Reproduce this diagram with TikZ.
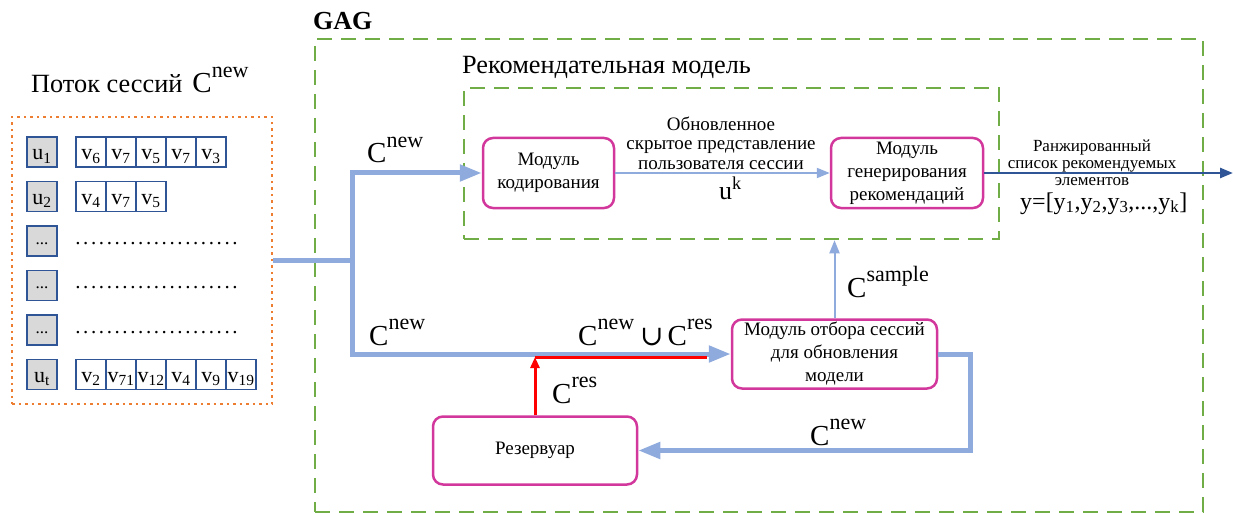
\documentclass[tikz,border=0pt]{standalone}
\usepackage{fontspec}
\setmainfont{Liberation Serif}
\newfontfamily\symserif{DejaVu Serif}
\usetikzlibrary{arrows.meta}

\definecolor{flow}{RGB}{143,170,220}
\definecolor{outblue}{RGB}{47,85,151}
\definecolor{modpink}{RGB}{210,55,155}
\definecolor{gaggreen}{RGB}{112,173,71}
\definecolor{streamorange}{RGB}{237,125,49}
\definecolor{cellgray}{RGB}{217,217,217}

\newcommand\fsz[2]{\fontsize{#1}{#2}\selectfont}
% set symbol C with a raised index
\newcommand\Cidx[1]{C\raisebox{0.52em}{\fsz{22}{22}#1}}

\tikzset{
  streambox/.style={draw=streamorange, line width=2pt, dash pattern=on 2.5pt off 4pt,
    minimum width=260pt, minimum height=287pt, inner sep=0pt},
  ucell/.style={draw=outblue, fill=cellgray, line width=1.2pt, minimum width=30pt,
    minimum height=30pt, inner sep=0pt, font=\fsz{22}{22}, text height=16pt, text depth=0pt},
  dcell/.style={ucell, font=\fsz{17}{17}, text height=6pt},
  vcell/.style={draw=outblue, fill=white, line width=1.2pt, minimum width=30pt,
    minimum height=30pt, inner sep=0pt, font=\fsz{22}{22}, text height=16pt, text depth=0pt},
  dotrow/.style={inner sep=0pt, font=\fsz{21}{21}, text height=6pt, text depth=0pt},
  dashbox/.style={draw=gaggreen, line width=2.5pt, dash pattern=on 15pt off 9pt, inner sep=0pt},
  module/.style={draw=modpink, line width=2.5pt, rounded corners=10pt, align=center,
    inner sep=0pt, font=\fsz{19}{23}},
  title/.style={inner sep=0pt, anchor=base west, font=\fsz{26.3}{26.3}},
  clabel/.style={inner sep=0pt, anchor=base west, font=\fsz{29}{29}},
  note/.style={inner sep=0pt, align=center},
  flowthick/.style={draw=flow, line width=5pt},
  bigtip/.style={-{Triangle[length=22pt,width=16pt]}},
  flowthin/.style={draw=flow, line width=2pt, -{Triangle[length=13pt,width=10pt]}},
  outarrow/.style={draw=outblue, line width=2.5pt, -{Triangle[length=13pt,width=10pt]}},
  redline/.style={draw=red, line width=3pt},
}

\begin{document}
\begin{tikzpicture}[x=1pt, y=-1pt]
\useasboundingbox (0,0) rectangle (1233,513);

% ---- session stream ----
\node[title] (streamtitle) at (31,93) {Поток сессий\hspace{10pt}{\fsz{29}{29}\Cidx{new}}};
\node[streambox] (stream) at (142,260.5) {};

\node[ucell] (u1) at (42,152) {u\textsubscript{1}};
\node[ucell] (u2) at (42,196.5) {u\textsubscript{2}};
\node[dcell] (ua) at (42,241) {...};
\node[dcell] (ub) at (42,285.5) {...};
\node[dcell] (uc) at (42,330) {...};
\node[ucell] (ut) at (42,374.5) {u\textsubscript{t}};

\foreach \s [count=\i] in {6,7,5,7,3}
  \node[vcell] (va\i) at ({61+30*\i},152) {v\textsubscript{\s}};
\foreach \s [count=\i] in {4,7,5}
  \node[vcell] (vb\i) at ({61+30*\i},196.5) {v\textsubscript{\s}};
\foreach \s [count=\i] in {2,71,12,4,9,19}
  \node[vcell] (vt\i) at ({61+30*\i},374.5) {v\textsubscript{\s}};

\foreach \y [count=\i] in {241,285.5,330}
  \node[dotrow] (dots\i) at (156.5,\y) {\hbox to 164.85pt{\leaders\hbox to 7.85pt{\hss.\hss}\hfill}};

% ---- GAG frame and recommendation model ----
\node[dashbox, minimum width=888pt, minimum height=473pt] (gag) at (759,275.5) {};
\node[inner sep=0pt, anchor=base west, font=\fsz{26}{26}\bfseries] (gagtitle) at (313,30) {GAG};
\node[dashbox, minimum width=535pt, minimum height=151pt] (rec) at (731.5,163.5) {};
\node[title] (rectitle) at (462,74) {Рекомендательная модель};

% ---- modules ----
\node[module, minimum width=131pt, minimum height=70pt] (enc) at (548.5,173) {Модуль\\кодирования};
\node[module, minimum width=152pt, minimum height=70pt] (gen) at (907,173) {Модуль\\генерирования\\рекомендаций};
\node[module, minimum width=205pt, minimum height=69pt] (sel) at (834.5,354) {Модуль отбора сессий\\для обновления\\модели};
\node[module, minimum width=204pt, minimum height=68pt] (res) at (535,450.5) {Резервуар};

% ---- connectors ----
\coordinate (split) at (352,260.5);
\coordinate (out) at (1233,173);
\coordinate (rj) at (535,357);
\coordinate (rend) at (707,357);

\draw[flowthick] (stream.east) -- (split);
\draw[flowthick, bigtip] (split) |- (enc.west);
\draw[flowthick, bigtip] (split) |- (sel.west);
\draw[flowthin] (enc.east) -- (gen.west);
\draw[outarrow] (gen.east) -- (out);
\draw[flowthin] (sel.north) -- (sel.north |- rec.south);
\draw[flowthick, bigtip] (sel.east) -- ++(32,0) |- (res.east);
\draw[redline, -{Triangle[length=11pt,width=9pt]}] (res.north) -- (rj);
\draw[redline] (rj) -- (rend);

% ---- labels ----
\node[clabel] (lcnew1) at (367,163) {\Cidx{new}};
\node[clabel] (lcnew2) at (369,345) {\Cidx{new}};
\node[clabel] (lunion) at (578,345) {\Cidx{new}\hspace{6pt}{\symserif\fsz{28}{28}∪}\hspace{4pt}\Cidx{res}};
\node[clabel] (lcres) at (552,403) {\Cidx{res}};
\node[clabel] (lcsample) at (847,297) {\Cidx{sample}};
\node[clabel] (lcnew3) at (810,445) {\Cidx{new}};

\node[note, font=\fsz{19}{19.5}] (hidden) at (721,143) {Обновленное\\скрытое представление\\пользователя сессии};
\node[inner sep=0pt, anchor=base west, font=\fsz{26}{26}] (uk) at (719,199) {u\textsuperscript{k}};
\node[note, font=\fsz{17}{17}] (ranked) at (1092,163) {Ранжированный\\список рекомендуемых\\элементов};
\node[inner sep=0pt, anchor=base west, font=\fsz{24}{24}] (ylist) at (1020,209)
  {y=[y\textsubscript{1},y\textsubscript{2},y\textsubscript{3},...,y\textsubscript{k}]};
\end{tikzpicture}
\end{document}
